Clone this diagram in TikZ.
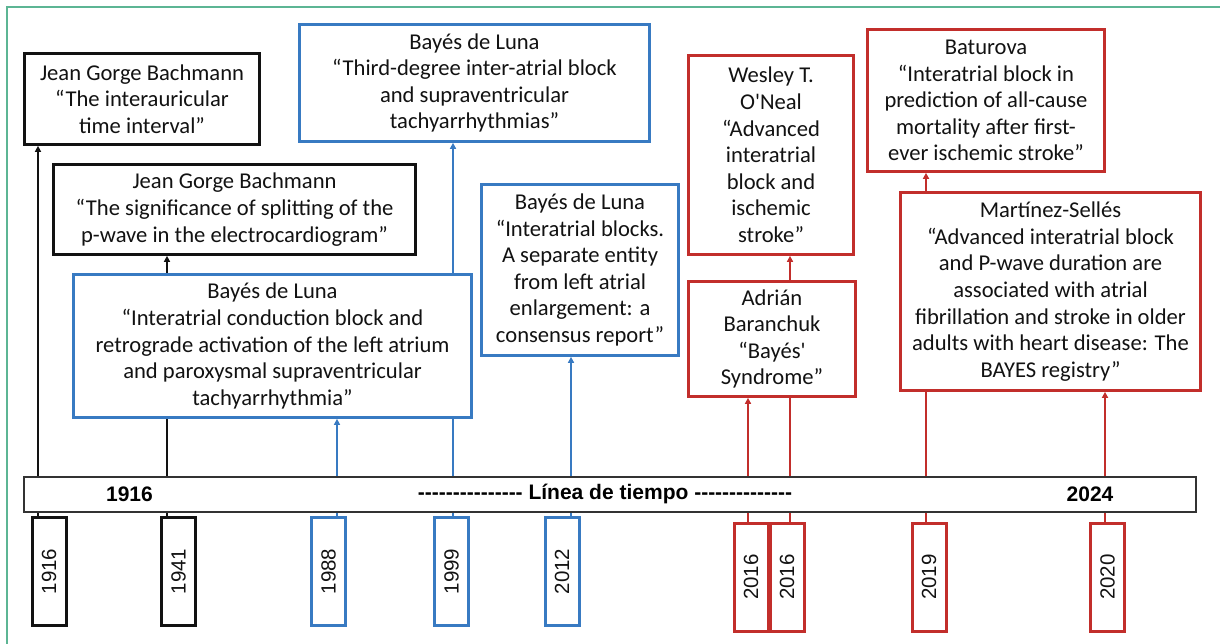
\documentclass[tikz,border=0pt]{standalone}
\usepackage{fontspec}
\usepackage{graphicx}
\setmainfont{Carlito}
\newfontfamily\arialf{Liberation Sans}
\usetikzlibrary{arrows.meta,backgrounds}
\definecolor{azul}{rgb}{0.22,0.48,0.76}
\definecolor{rojo}{rgb}{0.76,0.18,0.17}
\definecolor{verde}{rgb}{0.36,0.71,0.58}
\definecolor{negro}{rgb}{0.07,0.07,0.07}
\definecolor{gris}{rgb}{0.2,0.2,0.2}
\tikzset{
  evento/.style={draw=#1, line width=2.7pt, fill=white, text=negro, align=center, inner sep=0pt, font=\fontsize{22.6}{26.6}\selectfont},
  anio/.style={draw=#1, line width=3pt, fill=white, text=negro, inner sep=0pt, minimum width=34, minimum height=108, font=\arialf\fontsize{20.5}{20.5}\selectfont},
  enlace/.style={draw=#1, line width=2pt, -{Triangle[length=6pt,width=6pt,fill=#1]}},
  barra/.style={font=\arialf\bfseries\fontsize{21}{21}\selectfont, inner sep=0pt}
}

\begin{document}
\begin{tikzpicture}[x=1pt,y=-1pt,line join=miter]
\useasboundingbox (0,0) rectangle (1220,644);
\draw[verde,line width=2pt] (7,644) -- (7,7) -- (1220,7);

\node[evento=negro,minimum width=235,minimum height=91] (bach1) at (142,99) {Jean Gorge Bachmann\\“The interauricular\\time interval”};
\node[evento=negro,minimum width=362,minimum height=90] (bach2) at (234.5,209.5) {Jean Gorge Bachmann\\“The significance of splitting of the\\p-wave in the electrocardiogram”};
\node[evento=azul,minimum width=398,minimum height=143] (luna1) at (272.5,346) {Bayés de Luna\\“Interatrial conduction block and\\retrograde activation of the left atrium\\and paroxysmal supraventricular\\tachyarrhythmia”};
\node[evento=azul,minimum width=350,minimum height=117] (luna2) at (474.5,83) {Bayés de Luna\\“Third-degree inter-atrial block\\and supraventricular\\tachyarrhythmias”};
\node[evento=azul,minimum width=197,minimum height=171] (luna3) at (580,270) {Bayés de Luna\\“Interatrial blocks.\\A separate entity\\from left atrial\\enlargement: a\\consensus report”};
\node[evento=rojo,minimum width=165,minimum height=199] (oneal) at (771,155) {Wesley T.\\O\textquotesingle Neal\\“Advanced\\interatrial\\block and\\ischemic\\stroke”};
\node[evento=rojo,minimum width=167,minimum height=115] (baran) at (772,339) {Adrián\\Baranchuk\\“Bayés\textquotesingle\\Syndrome”};
\node[evento=rojo,minimum width=237,minimum height=142] (batur) at (986,100.5) {Baturova\\“Interatrial block in\\prediction of all-cause\\mortality after first-\\ever ischemic stroke”};
\node[evento=rojo,minimum width=300,minimum height=198] (selles) at (1050.5,291.5) {Martínez-Sellés\\“Advanced interatrial block\\and P-wave duration are\\associated with atrial\\fibrillation and stroke in older\\adults with heart disease: The\\BAYES registry”};

\node[draw=gris,line width=2pt,fill=white,minimum width=1172,minimum height=35,inner sep=0pt] (linea) at (610,494) {};
\node[barra] (ini) at (129.5,494) {1916};
\node[barra] (fin) at (1090,494) {2024};
\node[barra] (titulo) at (605,494) {--------------- Línea de tiempo --------------};

\node[anio=negro] (a1916) at (49,571.5) {\rotatebox{90}{1916}};
\node[anio=negro] (a1941) at (178.5,571.5) {\rotatebox{90}{1941}};
\node[anio=azul] (a1988) at (328.5,571.5) {\rotatebox{90}{1988}};
\node[anio=azul] (a1999) at (451.5,571.5) {\rotatebox{90}{1999}};
\node[anio=azul] (a2012) at (562,571.5) {\rotatebox{90}{2012}};
\node[anio=rojo] (a2016a) at (751,577) {\rotatebox{90}{2016}};
\node[anio=rojo] (a2016b) at (787,577) {\rotatebox{90}{2016}};
\node[anio=rojo] (a2019) at (929,577) {\rotatebox{90}{2019}};
\node[anio=rojo] (a2020) at (1107.5,577) {\rotatebox{90}{2020}};

\begin{scope}[on background layer]
\draw[enlace=negro] ([xshift=-11pt]a1916.north) -- ([xshift=-11pt]a1916.north |- bach1.south);
\draw[enlace=negro] ([xshift=-11.5pt]a1941.north) -- ([xshift=-11.5pt]a1941.north |- bach2.south);
\draw[enlace=azul] ([xshift=8.5pt]a1988.north) -- ([xshift=8.5pt]a1988.north |- luna1.south);
\draw[enlace=azul] ([xshift=1.5pt]a1999.north) -- ([xshift=1.5pt]a1999.north |- luna2.south);
\draw[enlace=azul] ([xshift=9pt]a2012.north) -- ([xshift=9pt]a2012.north |- luna3.south);
\draw[enlace=rojo] ([xshift=-3pt]a2016a.north) -- ([xshift=-3pt]a2016a.north |- baran.south);
\draw[enlace=rojo] ([xshift=3pt]a2016b.north) -- ([xshift=3pt]a2016b.north |- oneal.south);
\draw[enlace=rojo] ([xshift=-3pt]a2019.north) -- ([xshift=-3pt]a2019.north |- batur.south);
\draw[enlace=rojo] ([xshift=-2.5pt]a2020.north) -- ([xshift=-2.5pt]a2020.north |- selles.south);
\end{scope}
\end{tikzpicture}
\end{document}
